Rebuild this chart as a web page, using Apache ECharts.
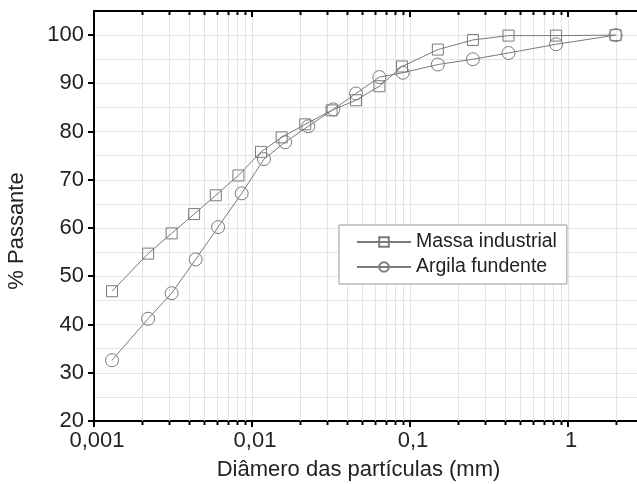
<!DOCTYPE html>
<html><head><meta charset="utf-8">
<script src="https://cdn.jsdelivr.net/npm/echarts@6/dist/echarts.min.js"></script>
<style>html,body{margin:0;padding:0;background:#fff}#c{width:637px;height:484px}</style>
</head><body><div id="c"></div>
<script>
// Data
const massaX = [0.0013,0.0022,0.0031,0.0043,0.0059,0.0082,0.0114,0.0154,0.0217,0.0319,0.0455,0.064,0.089,0.15,0.25,0.42,0.84,2.0];
const massaY = [46.9,54.7,58.9,62.9,66.8,70.9,75.8,78.8,81.5,84.4,86.5,89.4,93.5,97.0,99.0,99.9,99.9,100];
const argilaX = [0.0013,0.0022,0.0031,0.0044,0.0061,0.0086,0.0119,0.0162,0.0227,0.0327,0.0455,0.064,0.09,0.15,0.25,0.42,0.84,2.0];
const argilaY = [32.6,41.2,46.5,53.5,60.2,67.2,74.3,77.8,81.1,84.6,87.9,91.3,92.2,93.9,95.0,96.3,98.1,100];
const seriesNames = ['Massa industrial','Argila fundente'];
const xTickLabels = {'0.001':'0,001','0.01':'0,01','0.1':'0,1','1':'1'};
const xMinor = [0.002,0.003,0.004,0.005,0.006,0.007,0.008,0.009,
                0.02,0.03,0.04,0.05,0.06,0.07,0.08,0.09,
                0.2,0.3,0.4,0.5,0.6,0.7,0.8,0.9,2,3];
const yMajor = [20,30,40,50,60,70,80,90,100];
const X_MIN = 0.001, X_MAX = 3.16, Y_MIN = 20, Y_MAX = 105;

const FONT = "'Liberation Sans', Arial, sans-serif";
const GRID_C = '#e4e4e4';
const MARK_C = '#7a7a7a';

const chart = echarts.init(document.getElementById('c'), null, {renderer:'canvas'});
function fmtX(v){
  const k = String(+v.toPrecision(6));
  return xTickLabels[k] !== undefined ? xTickLabels[k] : '';
}
const option = {
  animation:false,
  backgroundColor:'#fff',
  textStyle:{fontFamily:FONT},
  grid:{left:94, top:11, right:-10, bottom:63, containLabel:false, outerBoundsMode:'none'},
  xAxis:[{
    type:'log', logBase:10, min:X_MIN, max:X_MAX, position:'bottom',
    axisLine:{show:true, lineStyle:{color:'#000', width:2}},
    axisTick:{show:true, inside:false, length:6, lineStyle:{color:'#000', width:2}},
    axisLabel:{formatter:fmtX, fontSize:22, color:'#222', margin:9, fontFamily:FONT, padding:[0,0,0,6]},
    splitLine:{show:true, lineStyle:{color:GRID_C, width:1}},
    name:'Diâmero das partículas (mm)', nameLocation:'middle', nameGap:38,
    nameTextStyle:{fontSize:22, color:'#222', fontFamily:FONT, padding:[0,24,0,0]}
  },{
    type:'log', logBase:10, min:X_MIN, max:X_MAX, position:'top',
    axisLine:{show:true, lineStyle:{color:'#000', width:2}},
    axisTick:{show:true, inside:true, length:6, lineStyle:{color:'#000', width:2}},
    axisLabel:{show:false}, splitLine:{show:false}
  }],
  yAxis:[{
    type:'value', min:Y_MIN, max:Y_MAX, interval:5,
    axisLine:{show:true, lineStyle:{color:'#000', width:2}},
    axisTick:{show:false},
    axisLabel:{fontSize:22, color:'#222', margin:10, fontFamily:FONT,
      formatter:v => yMajor.indexOf(v) >= 0 ? String(v) : ''},
    splitLine:{show:true, lineStyle:{color:GRID_C, width:1}},
    name:'% Passante', nameLocation:'middle', nameGap:66,
    nameTextStyle:{fontSize:22, color:'#222', fontFamily:FONT, padding:[0,30,0,0]}
  }],
  legend:{
    data:seriesNames, orient:'vertical', left:339, top:225,
    backgroundColor:'#fff', borderColor:'#999', borderWidth:1, borderRadius:0,
    padding:[7,10,7,17], itemGap:5, itemWidth:54, itemHeight:12,
    textStyle:{fontSize:19.5, color:'#222', fontFamily:FONT}
  },
  series:[
    {
      type:'custom', name:'xminor', silent:true, z:1, clip:false, xAxisIndex:0, yAxisIndex:0,
      data:xMinor.map(v => [v, Y_MIN]),
      encode:{x:0, y:1},
      renderItem:(params, api) => {
        const v = api.value(0);
        const b = api.coord([v, Y_MIN]);
        const t = api.coord([v, Y_MAX]);
        const x = Math.round(b[0]) + 0.5;
        return {type:'group', children:[
          {type:'line', shape:{x1:x, y1:b[1], x2:x, y2:t[1]}, style:{stroke:GRID_C, lineWidth:1}},
          {type:'line', shape:{x1:x, y1:b[1], x2:x, y2:b[1]+4}, style:{stroke:'#000', lineWidth:2}},
          {type:'line', shape:{x1:x, y1:t[1], x2:x, y2:t[1]+4}, style:{stroke:'#000', lineWidth:2}}
        ]};
      }
    },
    {
      type:'custom', name:'ymajor', silent:true, z:3, clip:false, xAxisIndex:0, yAxisIndex:0,
      data:yMajor.map(v => [X_MIN, v]),
      encode:{x:0, y:1},
      renderItem:(params, api) => {
        const p = api.coord([X_MIN, api.value(1)]);
        const y = Math.round(p[1]);
        return {type:'line', shape:{x1:p[0]-6, y1:y, x2:p[0], y2:y}, style:{stroke:'#000', lineWidth:2}};
      }
    },
    {
      name:seriesNames[0], type:'line', z:5,
      data:massaX.map((x,i) => [x, massaY[i]]),
      symbol:'rect', symbolSize:11, showSymbol:true,
      lineStyle:{color:MARK_C, width:1},
      itemStyle:{color:'rgba(255,255,255,0)', borderColor:MARK_C, borderWidth:1}
    },
    {
      name:seriesNames[1], type:'line', z:5,
      data:argilaX.map((x,i) => [x, argilaY[i]]),
      symbol:'circle', symbolSize:13, showSymbol:true,
      lineStyle:{color:MARK_C, width:1},
      itemStyle:{color:'rgba(255,255,255,0)', borderColor:MARK_C, borderWidth:1}
    }
  ]
};
chart.setOption(option);
</script>
</body></html>
